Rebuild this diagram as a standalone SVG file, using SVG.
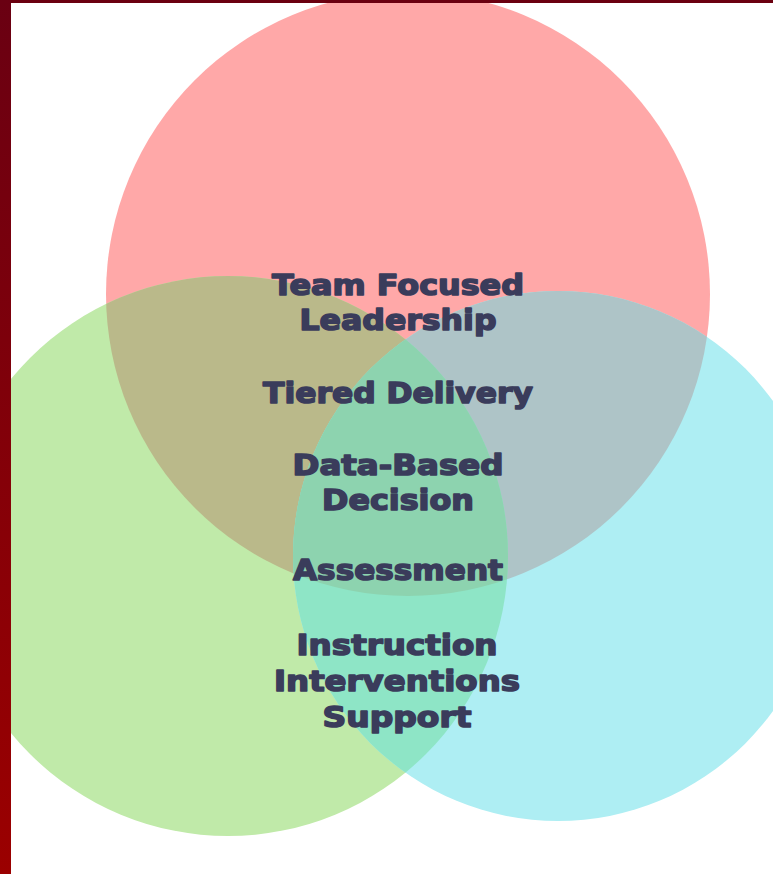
<svg xmlns="http://www.w3.org/2000/svg" width="773" height="874" viewBox="0 0 773 874">
  <defs>
    <linearGradient id="border" x1="0" y1="0" x2="0" y2="1">
      <stop offset="0" stop-color="#6a0012"/>
      <stop offset="1" stop-color="#9b0000"/>
    </linearGradient>
    <clipPath id="clipRed"><circle cx="408" cy="294" r="302"/></clipPath>
    <clipPath id="clipGreen"><circle cx="228" cy="556" r="280"/></clipPath>
    <clipPath id="clipCyan"><circle cx="558" cy="556" r="265"/></clipPath>
  </defs>
  <style>
    .lbl { font-family: "DejaVu Sans", "Liberation Sans", sans-serif; font-weight: bold; font-size: 29px; fill: #3a3c5b; stroke: #3a3c5b; stroke-width: 1.6px; stroke-linejoin: round; text-anchor: middle; }
  </style>
  <rect x="0" y="0" width="773" height="874" fill="#ffffff"/>
  <g id="circle-red"><circle cx="408" cy="294" r="302" fill="#ffa8a8"/></g>
  <g id="circle-green"><circle cx="228" cy="556" r="280" fill="#c0eaa9"/></g>
  <g id="circle-cyan"><circle cx="558" cy="556" r="265" fill="#aeeef3"/></g>
  <g id="overlap-red-green" clip-path="url(#clipRed)"><circle cx="228" cy="556" r="280" fill="#bab98a"/></g>
  <g id="overlap-red-cyan" clip-path="url(#clipRed)"><circle cx="558" cy="556" r="265" fill="#aec4c7"/></g>
  <g id="overlap-green-cyan" clip-path="url(#clipGreen)"><circle cx="558" cy="556" r="265" fill="#8ee5c6"/></g>
  <g id="overlap-all" clip-path="url(#clipRed)"><g clip-path="url(#clipGreen)"><circle cx="558" cy="556" r="265" fill="#8dd3af"/></g></g>
  <g id="labels">
    <text class="lbl" x="398" y="295" textLength="252" lengthAdjust="spacingAndGlyphs">Team Focused</text>
    <text class="lbl" x="398" y="330" textLength="197" lengthAdjust="spacingAndGlyphs">Leadership</text>
    <text class="lbl" x="398" y="403" textLength="270" lengthAdjust="spacingAndGlyphs">Tiered Delivery</text>
    <text class="lbl" x="398" y="475" textLength="211" lengthAdjust="spacingAndGlyphs">Data-Based</text>
    <text class="lbl" x="398" y="510" textLength="152" lengthAdjust="spacingAndGlyphs">Decision</text>
    <text class="lbl" x="398" y="580" textLength="210" lengthAdjust="spacingAndGlyphs">Assessment</text>
    <text class="lbl" x="397" y="655" textLength="201" lengthAdjust="spacingAndGlyphs">Instruction</text>
    <text class="lbl" x="397" y="691" textLength="246" lengthAdjust="spacingAndGlyphs">Interventions</text>
    <text class="lbl" x="397" y="727" textLength="149" lengthAdjust="spacingAndGlyphs">Support</text>
  </g>
  <g id="frame">
    <rect x="0" y="0" width="773" height="3" fill="#6b0010"/>
    <rect x="0" y="0" width="11" height="874" fill="url(#border)"/>
  </g>
</svg>
